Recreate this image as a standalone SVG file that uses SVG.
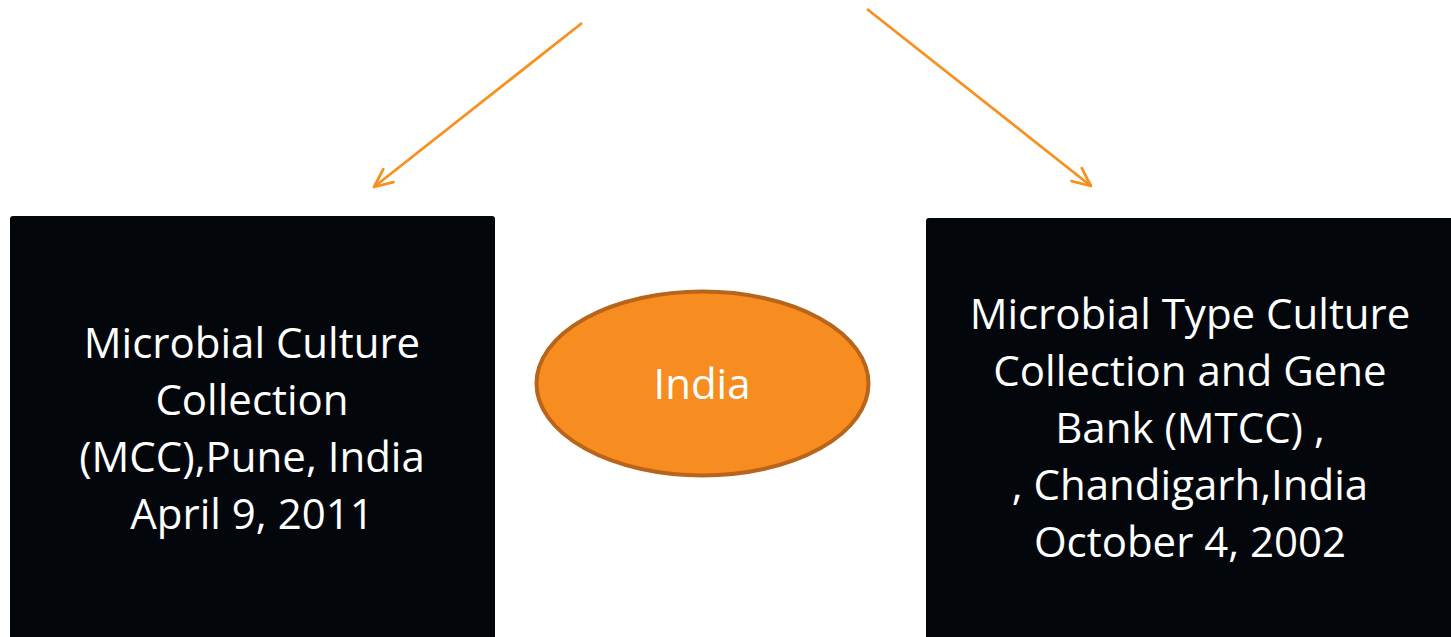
<svg xmlns="http://www.w3.org/2000/svg" width="1451" height="637" viewBox="0 0 1451 637">
  <style>
    .box { fill: #03070B; }
    .label { font-family: "Open Sans", "Noto Sans", sans-serif; font-size: 42px; fill: #FFFFFF; text-anchor: middle; }
    .conn { stroke: #F7901E; stroke-width: 2.8; fill: none; marker-end: url(#vhead); }
  </style>
  <defs>
    <marker id="vhead" viewBox="0 0 12 12" refX="11" refY="6" markerWidth="22" markerHeight="22" markerUnits="userSpaceOnUse" orient="auto">
      <path d="M1,1.5 L11,6 L1,10.5" fill="none" stroke="#F7901E" stroke-width="1.5" stroke-linecap="round" stroke-linejoin="round"/>
    </marker>
  </defs>
  <rect width="1451" height="637" fill="#FFFFFF"/>

  <g id="connectors">
    <line class="conn" x1="582" y1="23" x2="374" y2="187"/>
    <line class="conn" x1="867" y1="9" x2="1091" y2="186"/>
  </g>

  <g id="node-mcc">
    <rect class="box" x="10" y="216" width="485" height="440" rx="3"/>
    <text class="label" x="252" y="358">Microbial Culture</text>
    <text class="label" x="252" y="415">Collection</text>
    <text class="label" x="252" y="472">(MCC),Pune, India</text>
    <text class="label" x="252" y="529">April 9, 2011</text>
  </g>

  <g id="node-india">
    <ellipse cx="702.5" cy="383.5" rx="166" ry="92" fill="#F78D20" stroke="#B8651B" stroke-width="4"/>
    <text class="label" x="702" y="399">India</text>
  </g>

  <g id="node-mtcc">
    <rect class="box" x="926" y="218" width="540" height="440" rx="3"/>
    <text class="label" x="1190" y="329">Microbial Type Culture</text>
    <text class="label" x="1190" y="386">Collection and Gene</text>
    <text class="label" x="1190" y="443">Bank (MTCC) ,</text>
    <text class="label" x="1190" y="500">, Chandigarh,India</text>
    <text class="label" x="1190" y="557">October 4, 2002</text>
  </g>
</svg>
